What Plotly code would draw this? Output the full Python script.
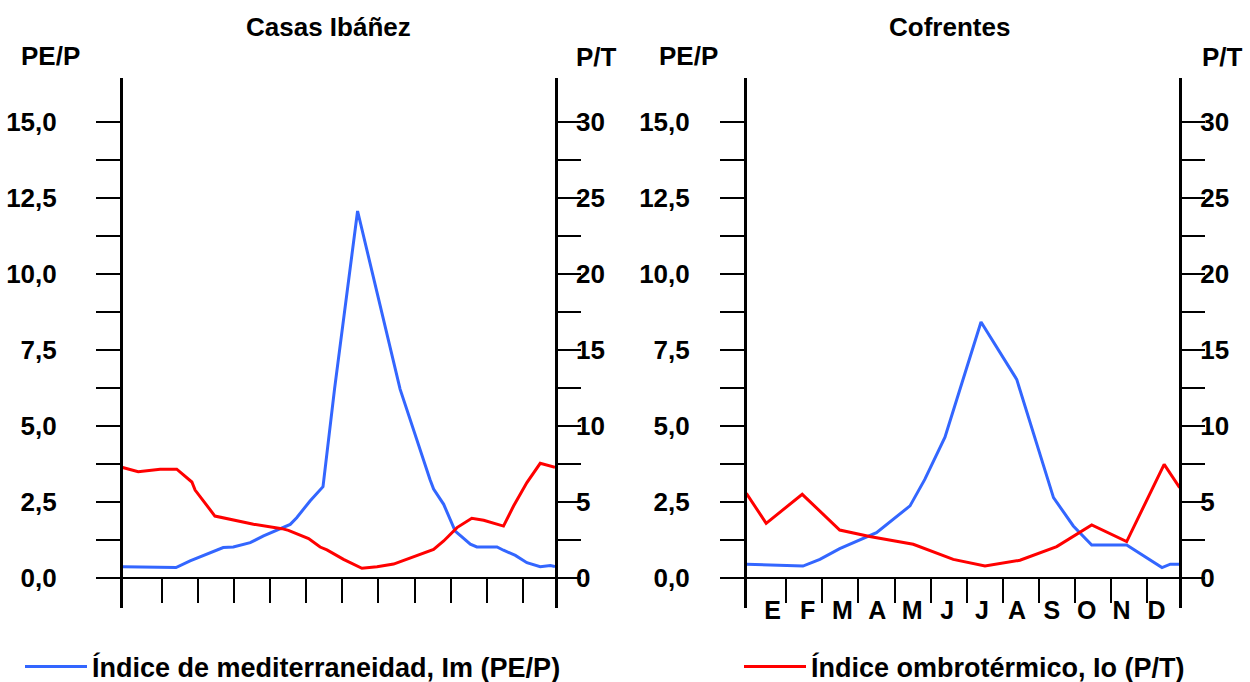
import plotly.graph_objects as go

# ---------------- data (x in month units: 0 = start of January, 12 = end of December) -------------
# Casas Ibáñez
ci_im_x = [-0.10, 1.38, 1.77, 2.23, 2.56, 2.69, 2.97, 3.44, 3.81, 4.18, 4.55, 4.73, 5.10, 5.46, 5.78,
           6.42, 7.60, 8.43, 8.53, 8.81, 9.04, 9.13, 9.55, 9.73, 10.29, 10.47, 10.80, 11.12, 11.49, 11.77, 11.90]
ci_im_y = [0.36, 0.33, 0.55, 0.77, 0.95, 0.99, 1.01, 1.15, 1.37, 1.57, 1.75, 1.97, 2.52, 2.99, 6.20,
           12.06, 6.20, 3.23, 2.91, 2.41, 1.81, 1.53, 1.10, 1.01, 1.01, 0.90, 0.73, 0.49, 0.36, 0.40, 0.36]
ci_io_x = [-0.10, 0.33, 0.94, 1.40, 1.82, 1.91, 2.46, 2.97, 3.53, 4.32, 4.50, 5.06, 5.38, 5.57, 6.03,
           6.54, 6.96, 7.42, 7.79, 8.53, 8.81, 9.18, 9.59, 9.92, 10.47, 10.75, 11.12, 11.49, 11.90]
ci_io_y = [7.24, 6.97, 7.13, 7.13, 6.29, 5.76, 4.05, 3.79, 3.51, 3.22, 3.11, 2.57, 2.01, 1.82, 1.20,
           0.61, 0.72, 0.89, 1.20, 1.86, 2.41, 3.29, 3.90, 3.77, 3.39, 4.71, 6.25, 7.52, 7.26]
# Cofrentes
co_im_x = [-0.11, 1.46, 1.93, 2.48, 3.50, 4.43, 4.84, 5.40, 6.40, 7.39, 8.41, 8.96, 9.47, 10.44, 11.42, 11.65, 11.91]
co_im_y = [0.44, 0.38, 0.60, 0.95, 1.48, 2.36, 3.23, 4.62, 8.41, 6.52, 2.63, 1.70, 1.07, 1.07, 0.33, 0.44, 0.44]
co_io_x = [-0.11, 0.44, 1.44, 2.48, 3.31, 4.52, 5.63, 6.51, 7.48, 8.50, 9.47, 10.44, 11.48, 11.91]
co_io_y = [5.55, 3.57, 5.48, 3.13, 2.70, 2.19, 1.20, 0.76, 1.14, 2.04, 3.46, 2.37, 7.45, 5.92]

titles = ["Casas Ibáñez", "Cofrentes"]
months = ["E", "F", "M", "A", "M", "J", "J", "A", "S", "O", "N", "D"]
im_tickvals = [i * 1.25 for i in range(13)]
im_ticktext = ["0,0", "", "2,5", "", "5,0", "", "7,5", "", "10,0", "", "12,5", "", "15,0"]
io_tickvals = [i * 2.5 for i in range(13)]
io_ticktext = ["0", "", "5", "", "10", "", "15", "", "20", "", "25", "", "30"]
name_im = "Índice de mediterraneidad, Im (PE/P)"
name_io = "Índice ombrotérmico, Io (P/T)"
label_im = "PE/P"
label_io = "P/T"

# ---------------- layout constants ----------------
W, H = 1250, 682
TOP, BOTTOM = 78, 608
FONT = "Liberation Sans, Arial, sans-serif"
BLUE = "#3366FF"
RED = "#FF0000"
ymin = -1.0
ppu = 30.4
ymax = ymin + (BOTTOM - TOP) / ppu
xr = [-0.1, 11.9]
dom1 = [122.7 / W, 555.0 / W]
dom2 = [746.7 / W, 1179.3 / W]
xpos = (0 - ymin) / (ymax - ymin)


def py(px):  # pixel row -> paper y
    return (BOTTOM - px) / (BOTTOM - TOP)


fig = go.Figure()
fig.add_trace(go.Scatter(x=ci_im_x, y=ci_im_y, mode="lines", line=dict(color=BLUE, width=3),
                         xaxis="x", yaxis="y", name=name_im, legend="legend"))
fig.add_trace(go.Scatter(x=ci_io_x, y=ci_io_y, mode="lines", line=dict(color=RED, width=3),
                         xaxis="x", yaxis="y2", name=name_io, legend="legend2"))
fig.add_trace(go.Scatter(x=co_im_x, y=co_im_y, mode="lines", line=dict(color=BLUE, width=3),
                         xaxis="x2", yaxis="y3", name=name_im, showlegend=False))
fig.add_trace(go.Scatter(x=co_io_x, y=co_io_y, mode="lines", line=dict(color=RED, width=3),
                         xaxis="x2", yaxis="y4", name=name_io, showlegend=False))

tickfont = dict(family=FONT, size=26, color="black", weight="bold")

def yleft(anchor, standoff):
    return dict(domain=[0, 1], anchor=anchor, range=[ymin, ymax], showline=True, linecolor="black",
                linewidth=2.5, tickmode="array", tickvals=im_tickvals, ticktext=im_ticktext,
                ticks="outside", ticklen=24, tickwidth=1.6, tickcolor="black", showgrid=False,
                zeroline=True, zerolinecolor="black", zerolinewidth=2, tickfont=tickfont,
                ticklabelstandoff=standoff, automargin=False, fixedrange=True)

def yright(anchor, overlay):
    return dict(anchor=anchor, overlaying=overlay, side="right", range=[2 * ymin, 2 * ymax],
                showline=True, linecolor="black", linewidth=2.5, tickmode="array", tickvals=io_tickvals,
                ticktext=io_ticktext, ticks="outside", ticklen=23, tickwidth=1.6, tickcolor="black",
                showgrid=False, zeroline=False, tickfont=tickfont, ticklabelstandoff=-10, automargin=False)

def xax(domain, with_labels):
    d = dict(domain=domain, range=xr, anchor="free", position=xpos, showline=False, showgrid=False,
             zeroline=False, automargin=False, tickfont=dict(family=FONT, size=25, color="black", weight="bold"))
    if with_labels:
        d.update(tickmode="array", tickvals=[0.62 + 0.968 * k for k in range(12)], ticktext=months,
                 ticks="", ticklabelstandoff=15,
                 minor=dict(tickmode="array", tickvals=list(range(1, 12)), ticks="outside",
                            ticklen=24, tickwidth=2, tickcolor="black"))
    else:
        d.update(tickmode="array", tickvals=list(range(1, 12)), ticktext=[""] * 11, ticks="outside",
                 ticklen=24, tickwidth=2, tickcolor="black")
    return d

legfont = dict(family=FONT, size=27, color="black", weight="bold")
fig.update_layout(
    width=W, height=H, template="none", paper_bgcolor="white", plot_bgcolor="white",
    margin=dict(l=0, r=0, t=TOP, b=H - BOTTOM, pad=0),
    xaxis=xax(dom1, False), xaxis2=xax(dom2, True),
    yaxis=yleft("x", 34), yaxis2=yright("x", "y"),
    yaxis3=yleft("x2", 25), yaxis4=yright("x2", "y3"),
    legend=dict(x=20 / W, y=1 - 667 / H, xref="container", yref="container", xanchor="left",
                yanchor="middle", orientation="h", itemwidth=62, font=legfont, bgcolor="rgba(0,0,0,0)"),
    legend2=dict(x=739 / W, y=1 - 667 / H, xref="container", yref="container", xanchor="left",
                 yanchor="middle", orientation="h", itemwidth=62, font=legfont, bgcolor="rgba(0,0,0,0)"),
    showlegend=True,
)

annfont = dict(family=FONT, size=26, color="black", weight="bold")
for t, cx in zip(titles, [328, 949]):
    fig.add_annotation(text=t, x=cx / W, y=py(27), xref="paper", yref="paper", showarrow=False,
                       xanchor="center", yanchor="middle", font=annfont)
for cx in [50, 688]:
    fig.add_annotation(text=label_im, x=cx / W, y=py(56), xref="paper", yref="paper", showarrow=False,
                       xanchor="center", yanchor="middle", font=annfont)
for cx in [596, 1222]:
    fig.add_annotation(text=label_io, x=cx / W, y=py(57), xref="paper", yref="paper", showarrow=False,
                       xanchor="center", yanchor="middle", font=annfont)

fig.write_html("out.html", config={"displayModeBar": False})
